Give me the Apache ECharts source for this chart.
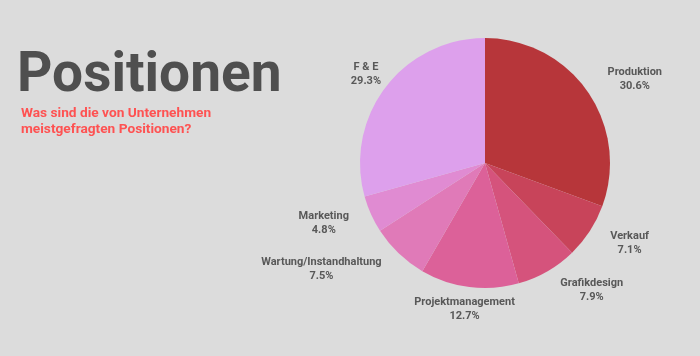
<!DOCTYPE html>
<html><head><meta charset="utf-8">
<script src="https://cdn.jsdelivr.net/npm/echarts@6/dist/echarts.min.js"></script>
<style>html,body{margin:0;padding:0;background:#dcdcdc}#c{width:700px;height:356px}</style>
</head><body><div id="c"></div>
<script>
const categories = ['Produktion','Verkauf','Grafikdesign','Projektmanagement','Wartung/Instandhaltung','Marketing','F & E'];
const values = [30.6, 7.1, 7.9, 12.7, 7.5, 4.8, 29.3];
const colors = ['#b7363a','#c8445a','#d5537c','#dc6199','#e07ab8','#e08bd2','#dda0ec'];
const centeredLabels = ['Projektmanagement','F & E'];
const titleText = 'Positionen';
const subtitleText = 'Was sind die von Unternehmen\nmeistgefragten Positionen?';

const chart = echarts.init(document.getElementById('c'));
chart.setOption({
  backgroundColor: '#dcdcdc',
  title: [
    { text: titleText, left: 12, top: 45,
      textStyle: { fontFamily: 'Roboto', fontWeight: 'bold', fontSize: 55, color: '#4f4f4f' } },
    { text: subtitleText, left: 16, top: 101,
      textStyle: { fontFamily: 'Roboto', fontWeight: 'bold', fontSize: 13.7, color: '#fe5252', lineHeight: 16 } }
  ],
  series: [{
    type: 'pie',
    center: [485, 163],
    radius: 125,
    startAngle: 90,
    clockwise: true,
    animation: false,
    data: categories.map((c, i) => ({ name: c, value: values[i], itemStyle: { color: colors[i] } })),
    label: {
      show: true,
      position: 'outside',
      formatter: p => '{a|' + p.name + '}\n{a|' + p.value.toFixed(1) + '%}',
      rich: { a: { align: 'center', fontFamily: 'Roboto', fontWeight: 'bold', fontSize: 11, color: '#585858', lineHeight: 14 } }
    },
    labelLine: { show: false, length: 22, length2: -3 },
    labelLayout: p => {
      if (centeredLabels.some(n => p.text.indexOf(n) >= 0)) {
        return { dx: p.align === 'right' ? p.labelRect.width / 2 : -p.labelRect.width / 2 };
      }
      return {};
    },
    emphasis: { disabled: true }
  }]
});
</script></body></html>
